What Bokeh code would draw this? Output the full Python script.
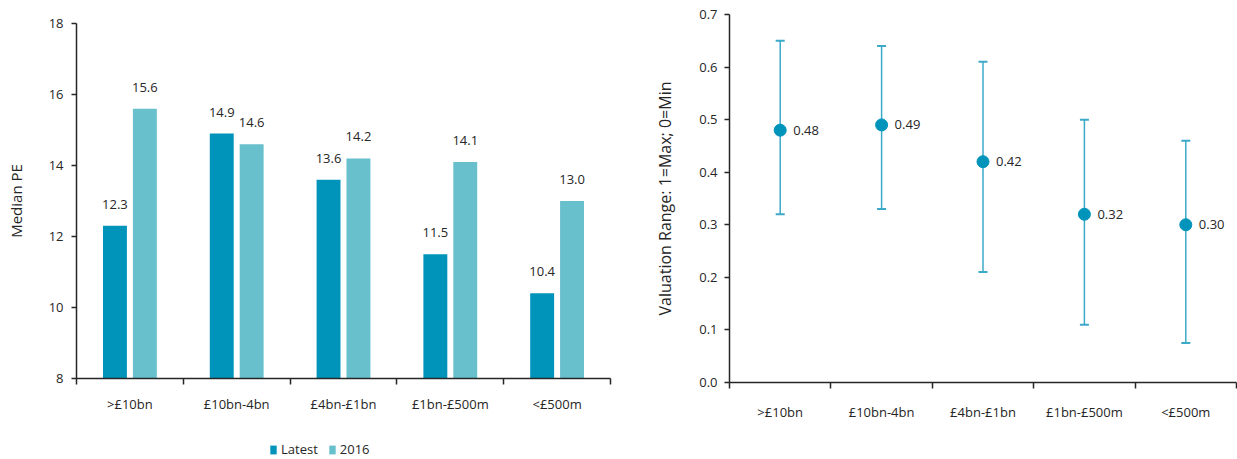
from bokeh.plotting import figure
from bokeh.layouts import row, column
from bokeh.models import (Range1d, FixedTicker, ColumnDataSource, Legend, LegendItem,
                          Whisker, TeeHead, PrintfTickFormatter)
from bokeh.core.properties import value
from bokeh.embed import file_html
from bokeh.resources import INLINE

categories = [">£10bn", "£10bn-4bn", "£4bn-£1bn", "£1bn-£500m", "<£500m"]
latest = [12.3, 14.9, 13.6, 11.5, 10.4]
y2016 = [15.6, 14.6, 14.2, 14.1, 13.0]
pe_ticks = [8, 10, 12, 14, 16, 18]
series_names = ["Latest", "2016"]

val_mid = [0.48, 0.49, 0.42, 0.32, 0.30]
val_high = [0.65, 0.64, 0.61, 0.50, 0.46]
val_low = [0.32, 0.33, 0.21, 0.11, 0.075]
val_ticks = [0.0, 0.1, 0.2, 0.3, 0.4, 0.5, 0.6, 0.7]

FONT = "Open Sans"
TXT = "#262626"
AX = "#262626"
C_LATEST = "#0094BB"
C_2016 = "#67C0CB"
C_WHISK = "#3CA9C9"

centers = [i + 0.5 for i in range(len(categories))]
overrides = {c: lab for c, lab in zip(centers, categories)}
bounds = list(range(len(categories) + 1))


def style_axes(p):
    p.xgrid.visible = False
    p.ygrid.visible = False
    p.outline_line_color = None
    for ax in (p.xaxis[0], p.yaxis[0]):
        ax.axis_line_color = AX
        ax.axis_line_width = 1.5
        ax.major_tick_line_color = AX
        ax.major_tick_line_width = 1.5
        ax.minor_tick_line_color = AX
        ax.minor_tick_line_width = 1.5
        ax.major_label_text_font = FONT
        ax.major_label_text_font_size = "13px"
        ax.major_label_text_color = TXT
        ax.axis_label_text_font = FONT
        ax.axis_label_text_font_style = "normal"
        ax.axis_label_text_color = TXT
    xa = p.xaxis[0]
    xa.ticker = FixedTicker(ticks=centers, minor_ticks=bounds)
    xa.major_label_overrides = overrides
    xa.major_tick_out = 0
    xa.major_tick_in = 0
    xa.minor_tick_out = 6
    xa.minor_tick_in = 0
    ya = p.yaxis[0]
    ya.major_tick_out = 5
    ya.major_tick_in = 0
    ya.minor_tick_line_color = None


# ---------------- Left: bar chart ----------------
p1 = figure(width=630, height=420, output_backend="svg", toolbar_location=None,
            x_range=Range1d(0, 5), y_range=Range1d(8, 18),
            min_border_left=76, min_border_right=20, min_border_top=23, min_border_bottom=42)
style_axes(p1)
p1.yaxis[0].ticker = FixedTicker(ticks=pe_ticks)
p1.yaxis[0].axis_label = "Median PE"
p1.yaxis[0].axis_label_text_font_size = "15px"
p1.yaxis[0].major_label_standoff = 8
p1.yaxis[0].axis_label_standoff = 20
p1.xaxis[0].major_label_standoff = 10

src1 = ColumnDataSource(dict(
    xl=[c - 0.14 for c in centers], x6=[c + 0.14 for c in centers],
    latest=latest, y2016=y2016,
    ll=[f"{v:.1f}" for v in latest], l6=[f"{v:.1f}" for v in y2016]))
p1.vbar(x="xl", top="latest", bottom=8, width=0.224, source=src1,
        fill_color=C_LATEST, line_color=None)
p1.vbar(x="x6", top="y2016", bottom=8, width=0.224, source=src1,
        fill_color=C_2016, line_color=None)
for xcol, ycol, tcol in (("xl", "latest", "ll"), ("x6", "y2016", "l6")):
    p1.text(x=xcol, y=ycol, text=tcol, source=src1, text_align="center",
            text_baseline="bottom", y_offset=-17, text_font=value(FONT),
            text_font_size="13px", text_color=TXT)

# legend strip under the bar chart (its glyph renderers sit outside the visible range)
pl = figure(width=630, height=39, output_backend="svg", toolbar_location=None,
            x_range=Range1d(0, 1), y_range=Range1d(0, 1),
            x_axis_location=None, y_axis_location=None,
            min_border_left=0, min_border_right=0, min_border_top=0, min_border_bottom=0)
pl.xgrid.visible = False
pl.ygrid.visible = False
pl.outline_line_color = None
hidden = ColumnDataSource(dict(x=[-10], top=[-10]))
lr1 = pl.vbar(x="x", top="top", bottom=-20, width=0.1, source=hidden,
              fill_color=C_LATEST, line_color=None)
lr2 = pl.vbar(x="x", top="top", bottom=-20, width=0.1, source=hidden,
              fill_color=C_2016, line_color=None)
legend = Legend(items=[LegendItem(label=series_names[0], renderers=[lr1], index=0),
                       LegendItem(label=series_names[1], renderers=[lr2], index=0)],
                orientation="horizontal", location=(193, 1),
                glyph_width=8, glyph_height=11, label_text_font=FONT,
                label_text_font_size="13px", label_text_color=TXT,
                label_standoff=4, spacing=10, padding=0, margin=0,
                border_line_color=None, background_fill_alpha=0)
pl.add_layout(legend, "center")

# ---------------- Right: valuation range ----------------
p2 = figure(width=607, height=459, output_backend="svg", toolbar_location=None,
            x_range=Range1d(0, 5), y_range=Range1d(0, 0.7),
            min_border_left=99, min_border_right=1, min_border_top=14, min_border_bottom=77)
style_axes(p2)
p2.yaxis[0].ticker = FixedTicker(ticks=val_ticks)
p2.yaxis[0].formatter = PrintfTickFormatter(format="%.1f")
p2.yaxis[0].axis_label = "Valuation Range: 1=Max; 0=Min"
p2.yaxis[0].axis_label_text_font_size = "16px"
p2.yaxis[0].major_label_standoff = 7
p2.yaxis[0].axis_label_standoff = 20
p2.xaxis[0].major_label_standoff = 14

src2 = ColumnDataSource(dict(x=centers, mid=val_mid, hi=val_high, lo=val_low,
                             lab=[f"{v:.2f}" for v in val_mid]))
wh = Whisker(base="x", upper="hi", lower="lo", dimension="height", source=src2,
             line_color=C_WHISK, line_width=1.5,
             upper_head=TeeHead(size=9, line_color=C_WHISK, line_width=2),
             lower_head=TeeHead(size=9, line_color=C_WHISK, line_width=2))
p2.add_layout(wh)
p2.scatter(x="x", y="mid", source=src2, size=12, fill_color=C_LATEST, line_color=C_LATEST)
p2.text(x="x", y="mid", text="lab", source=src2, x_offset=13, text_align="left",
        text_baseline="middle", text_font=value(FONT), text_font_size="13px", text_color=TXT)

layout = row(column(p1, pl), p2)
open("out.html", "w").write(file_html(layout, INLINE))
